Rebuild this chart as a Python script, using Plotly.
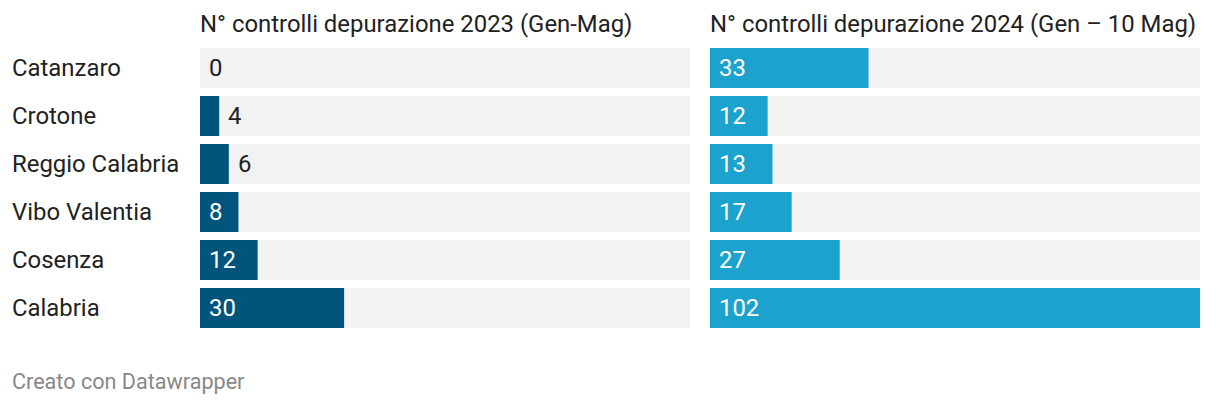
import plotly.graph_objects as go

categories = ["Catanzaro", "Crotone", "Reggio Calabria", "Vibo Valentia", "Cosenza", "Calabria"]
values_2023 = [0, 4, 6, 8, 12, 30]
values_2024 = [33, 12, 13, 17, 27, 102]
title_2023 = "N° controlli depurazione 2023 (Gen-Mag)"
title_2024 = "N° controlli depurazione 2024 (Gen – 10 Mag)"
footer = "Creato con Datawrapper"

W, H = 1220, 404
FONT = "Roboto, 'Noto Sans', sans-serif"
GRAY = "#f2f2f2"
C23 = "#01547b"
C24 = "#1ba2cd"
TXT = "#222222"
FS = 23.9

xmax = max(max(values_2023), max(values_2024))
panel_px = 490

fig = go.Figure()

panels = [("x", "y", values_2023, C23), ("x2", "y2", values_2024, C24)]
for xa, ya, vals, col in panels:
    fig.add_trace(go.Bar(x=[xmax] * len(categories), y=categories, orientation="h",
                         marker=dict(color=GRAY, line=dict(width=0)), xaxis=xa, yaxis=ya,
                         hoverinfo="skip", showlegend=False))
    fig.add_trace(go.Bar(x=vals, y=categories, orientation="h",
                         marker=dict(color=col, line=dict(width=0)), xaxis=xa, yaxis=ya,
                         showlegend=False))
    for c, v in zip(categories, vals):
        bar_px = v / xmax * panel_px
        inside = bar_px > 20 + 13 * len(str(v))
        fig.add_annotation(x=0 if inside else v, y=c, xref=xa, yref=ya,
                           text=str(v), showarrow=False, xanchor="left", xshift=7,
                           font=dict(family=FONT, size=FS, color="white" if inside else TXT))

for c in categories:
    fig.add_annotation(x=12 / W, y=c, xref="paper", yref="y", text=c, showarrow=False,
                       xanchor="left", xshift=-2,
                       font=dict(family=FONT, size=FS, color=TXT))

fig.add_annotation(x=200 / W, y=1 - 24 / H, xref="paper", yref="paper", text=title_2023,
                   showarrow=False, xanchor="left", yanchor="middle", xshift=-2,
                   font=dict(family=FONT, size=FS, color=TXT))
fig.add_annotation(x=710 / W, y=1 - 24 / H, xref="paper", yref="paper", text=title_2024,
                   showarrow=False, xanchor="left", yanchor="middle", xshift=-2,
                   font=dict(family=FONT, size=FS, color=TXT))
fig.add_annotation(x=12 / W, y=1 - 381 / H, xref="paper", yref="paper", text=footer,
                   showarrow=False, xanchor="left", yanchor="middle", xshift=-2,
                   font=dict(family=FONT, size=21.6, color="#888888"))

ydom = [1 - 332 / H, 1 - 44 / H]
common_x = dict(range=[0, xmax], showgrid=False, zeroline=False, showticklabels=False, fixedrange=True)
common_y = dict(autorange="reversed", showgrid=False, zeroline=False, showticklabels=False,
                domain=ydom, fixedrange=True)

fig.update_layout(
    width=W, height=H, margin=dict(l=0, r=0, t=0, b=0),
    paper_bgcolor="white", plot_bgcolor="white",
    barmode="overlay", bargap=8 / 48,
    xaxis=dict(domain=[200 / W, 690 / W], anchor="y", **common_x),
    xaxis2=dict(domain=[710 / W, 1200 / W], anchor="y2", **common_x),
    yaxis=dict(anchor="x", **common_y),
    yaxis2=dict(anchor="x2", **common_y),
)

fig.write_html("out.html", config={"displayModeBar": False},
               post_script="document.body.style.margin='0';document.body.style.overflow='hidden';")
